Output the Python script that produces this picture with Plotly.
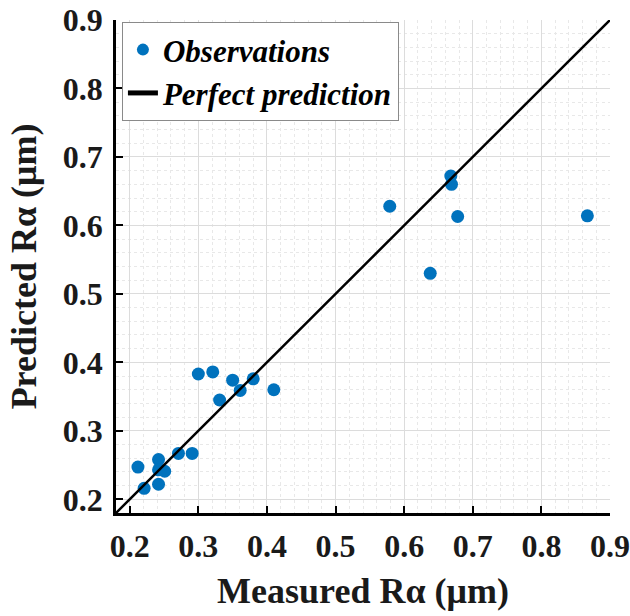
import plotly.graph_objects as go

measured = [0.212, 0.221, 0.242, 0.242, 0.251, 0.242, 0.271, 0.291, 0.300, 0.321,
            0.331, 0.350, 0.361, 0.380, 0.410, 0.579, 0.668, 0.669, 0.678, 0.638, 0.867]
predicted = [0.247, 0.216, 0.258, 0.243, 0.241, 0.222, 0.267, 0.267, 0.383, 0.386,
             0.345, 0.374, 0.359, 0.376, 0.360, 0.628, 0.672, 0.660, 0.613, 0.530, 0.614]
perfect = [0.18, 0.9]
ticks = [0.2, 0.3, 0.4, 0.5, 0.6, 0.7, 0.8, 0.9]
tick_text = ["0.2", "0.3", "0.4", "0.5", "0.6", "0.7", "0.8", "0.9"]
axis_range = [0.18, 0.9]

SERIF = "Liberation Serif, Times New Roman, serif"

fig = go.Figure()
fig.add_trace(go.Scatter(
    x=measured, y=predicted, mode="markers", name="Observations",
    marker=dict(color="#0072BD", size=13),
))
fig.add_trace(go.Scatter(
    x=perfect, y=perfect, mode="lines", name="Perfect prediction",
    line=dict(color="black", width=2.5),
))

axis_common = dict(
    range=axis_range, tickvals=ticks, ticktext=tick_text,
    showline=True, linecolor="black", linewidth=2.5,
    ticks="inside", ticklen=7, tickwidth=2, tickcolor="black",
    showgrid=True, gridcolor="#dcdcdc", gridwidth=1,
    zeroline=False, automargin=False, ticklabeloverflow="allow",
    tickfont=dict(family=SERIF, size=32, color="#1a1a1a", weight="bold"),
    minor=dict(dtick=0.02, showgrid=True, gridcolor="#e8e8e8", griddash="dot", gridwidth=1),
)

fig.update_xaxes(**axis_common, ticklabelstandoff=3,
                 title=dict(text="Measured Rα (μm)", standoff=15,
                            font=dict(family=SERIF, size=36, color="#1a1a1a", weight="bold")))
fig.update_yaxes(**axis_common, ticklabelstandoff=4,
                 title=dict(text="Predicted Rα (μm)", standoff=16,
                            font=dict(family=SERIF, size=36, color="#1a1a1a", weight="bold")))

fig.update_layout(
    width=630, height=616,
    margin=dict(l=116, r=20, t=20, b=103),
    plot_bgcolor="white", paper_bgcolor="white",
    showlegend=True,
    legend=dict(
        x=0.012, y=0.996, xanchor="left", yanchor="top",
        bgcolor="white", bordercolor="#8a8a8a", borderwidth=1,
        font=dict(family=SERIF, size=31, color="black", weight="bold", style="italic"),
        tracegroupgap=0, itemsizing="constant",
    ),
)

fig.write_html(
    "out.html",
    config={"displayModeBar": False},
    post_script="document.body.style.margin='0';document.body.style.padding='0';"
                "document.body.style.overflow='hidden';",
)
